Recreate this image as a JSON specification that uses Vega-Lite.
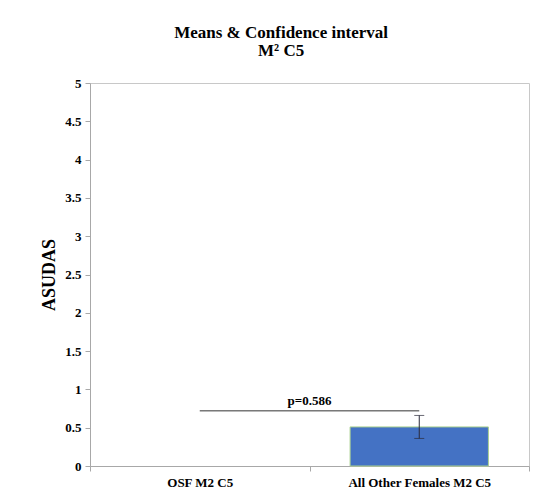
{
  "$schema": "https://vega.github.io/schema/vega-lite/v6.json",
  "width": 439,
  "height": 383,
  "autosize": "none",
  "padding": {"left": 90, "top": 83, "right": 4, "bottom": 27},
  "background": "white",
  "title": {
    "text": ["Means & Confidence interval", "M² C5"],
    "font": "Liberation Serif",
    "fontSize": 17,
    "fontWeight": "bold",
    "lineHeight": 18,
    "color": "black",
    "frame": "bounds",
    "anchor": "middle",
    "offset": 17,
    "dx": -4
  },
  "config": {
    "font": "Liberation Serif",
    "view": {"stroke": "#c8c8c8", "strokeWidth": 1},
    "axis": {
      "labelFont": "Liberation Serif",
      "labelFontWeight": "bold",
      "labelFontSize": 13,
      "labelColor": "black",
      "labelOverlap": false,
      "titleFont": "Liberation Serif",
      "titleFontWeight": "bold",
      "titleColor": "black",
      "domainColor": "#a8a8a8",
      "tickColor": "#a8a8a8",
      "tickSize": 5,
      "grid": false
    }
  },
  "datasets": {
    "means": [
      {"group": "OSF M2 C5", "mean": null, "lo": null, "hi": null},
      {"group": "All Other Females M2 C5", "mean": 0.51, "lo": 0.36, "hi": 0.66}
    ],
    "test": [
      {"from": "OSF M2 C5", "to": "All Other Females M2 C5", "level": 0.72, "label": "p=0.586", "labelLevel": 0.855}
    ]
  },
  "layer": [
    {
      "data": {"name": "means"},
      "mark": {"type": "bar", "color": "#4472C4", "stroke": "#A9D18E", "strokeWidth": 1, "width": {"band": 0.63}},
      "encoding": {
        "x": {
          "field": "group",
          "type": "nominal",
          "sort": null,
          "scale": {"domain": ["OSF M2 C5", "All Other Females M2 C5"], "paddingInner": 0, "paddingOuter": 0},
          "axis": {"title": null, "labelAngle": 0, "tickBand": "extent", "labelPadding": 5}
        },
        "y": {
          "field": "mean",
          "type": "quantitative",
          "scale": {"domain": [0, 5], "nice": false},
          "axis": {"title": "ASUDAS", "titleFontSize": 18, "titlePadding": 6, "values": [0, 0.5, 1, 1.5, 2, 2.5, 3, 3.5, 4, 4.5, 5], "format": "~g", "labelOverlap": false, "labelPadding": 4}
        }
      }
    },
    {
      "data": {"name": "means"},
      "mark": {"type": "rule", "color": "#2b2b3b", "strokeWidth": 1},
      "encoding": {
        "x": {"field": "group", "type": "nominal"},
        "y": {"field": "lo", "type": "quantitative", "axis": {"title": "ASUDAS", "titleFontSize": 18, "titlePadding": 6, "values": [0, 0.5, 1, 1.5, 2, 2.5, 3, 3.5, 4, 4.5, 5], "format": "~g", "labelOverlap": false, "labelPadding": 4}},
        "y2": {"field": "hi"}
      }
    },
    {
      "data": {"name": "means"},
      "mark": {"type": "tick", "color": "#2b2b3b", "thickness": 1, "size": 10},
      "encoding": {
        "x": {"field": "group", "type": "nominal"},
        "y": {"field": "lo", "type": "quantitative", "axis": {"title": "ASUDAS", "titleFontSize": 18, "titlePadding": 6, "values": [0, 0.5, 1, 1.5, 2, 2.5, 3, 3.5, 4, 4.5, 5], "format": "~g", "labelOverlap": false, "labelPadding": 4}}
      }
    },
    {
      "data": {"name": "means"},
      "mark": {"type": "tick", "color": "#2b2b3b", "thickness": 1, "size": 10},
      "encoding": {
        "x": {"field": "group", "type": "nominal"},
        "y": {"field": "hi", "type": "quantitative", "axis": {"title": "ASUDAS", "titleFontSize": 18, "titlePadding": 6, "values": [0, 0.5, 1, 1.5, 2, 2.5, 3, 3.5, 4, 4.5, 5], "format": "~g", "labelOverlap": false, "labelPadding": 4}}
      }
    },
    {
      "data": {"name": "test"},
      "mark": {"type": "rule", "color": "#333333", "strokeWidth": 1},
      "encoding": {
        "x": {"field": "from", "type": "nominal"},
        "x2": {"field": "to"},
        "y": {"field": "level", "type": "quantitative", "axis": {"title": "ASUDAS", "titleFontSize": 18, "titlePadding": 6, "values": [0, 0.5, 1, 1.5, 2, 2.5, 3, 3.5, 4, 4.5, 5], "format": "~g", "labelOverlap": false, "labelPadding": 4}}
      }
    },
    {
      "data": {"name": "test"},
      "mark": {"type": "text", "font": "Liberation Serif", "fontWeight": "bold", "fontSize": 13, "color": "black", "baseline": "middle", "align": "center"},
      "encoding": {
        "x": {"field": "from", "type": "nominal", "bandPosition": 1},
        "y": {"field": "labelLevel", "type": "quantitative", "axis": {"title": "ASUDAS", "titleFontSize": 18, "titlePadding": 6, "values": [0, 0.5, 1, 1.5, 2, 2.5, 3, 3.5, 4, 4.5, 5], "format": "~g", "labelOverlap": false, "labelPadding": 4}},
        "text": {"field": "label"}
      }
    }
  ]
}
